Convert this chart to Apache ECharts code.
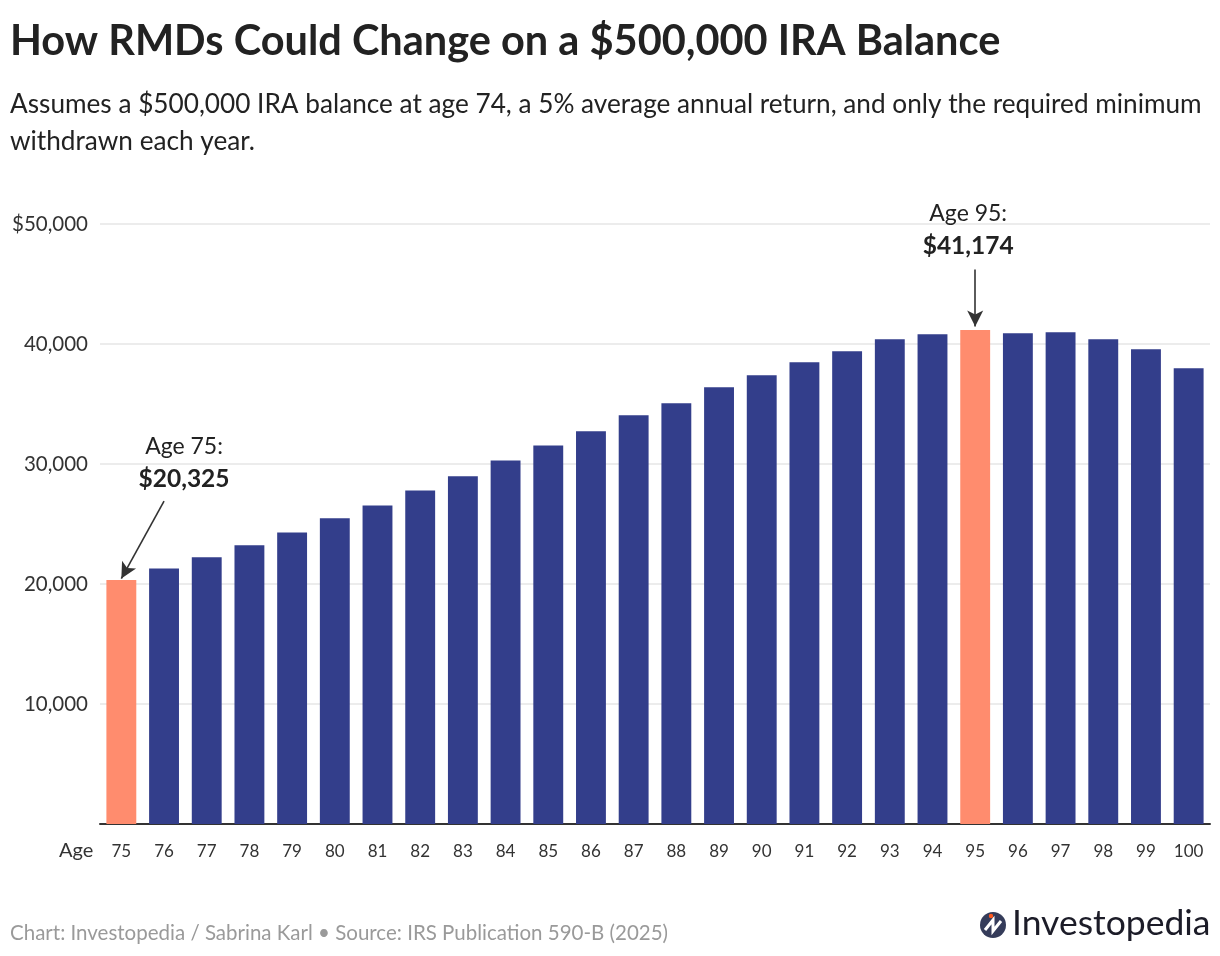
<!DOCTYPE html>
<html>
<head>
<meta charset="utf-8">
<script src="https://cdn.jsdelivr.net/npm/echarts@6/dist/echarts.min.js"></script>
<style>
  html, body { margin: 0; padding: 0; background: #fff; }
  #chart { width: 1220px; height: 956px; }
</style>
</head>
<body>
<div id="chart"></div>
<script>
const ages = ['75','76','77','78','79','80','81','82','83','84','85','86','87','88','89','90','91','92','93','94','95','96','97','98','99','100'];
const rmdValues = [20325, 21300, 22220, 23220, 24300, 25470, 26550, 27800, 28970, 30300, 31550, 32720, 34060, 35060, 36390, 37390, 38470, 39390, 40390, 40810, 41174, 40890, 40970, 40390, 39560, 37970];
const highlightAges = ['75', '95'];
const yTickValues = [10000, 20000, 30000, 40000, 50000];
const yTickLabels = ['10,000', '20,000', '30,000', '40,000', '$50,000'];
const annotations = [
  { age: '75', title: 'Age 75:', amount: '$20,325' },
  { age: '95', title: 'Age 95:', amount: '$41,174' }
];

const FONT = 'Lato, "Noto Sans", sans-serif';
const NAVY = '#333e8b';
const ORANGE = '#ff8c6e';

const chart = echarts.init(document.getElementById('chart'), null, { renderer: 'canvas' });

const barData = ages.map((a, i) => ({
  value: rmdValues[i],
  itemStyle: { color: highlightAges.includes(a) ? ORANGE : NAVY }
}));

const option = {
  backgroundColor: '#fff',
  animation: false,
  textStyle: { fontFamily: FONT },
  title: [
    {
      text: 'How RMDs Could Change on a $500,000 IRA Balance',
      left: 10, top: 21, padding: 0,
      textStyle: { fontFamily: FONT, fontSize: 41.5, fontWeight: 'bold', color: '#222' }
    },
    {
      text: 'Assumes a $500,000 IRA balance at age 74, a 5% average annual return, and only the required minimum\nwithdrawn each year.',
      left: 10, top: 86, padding: 0,
      textStyle: { fontFamily: FONT, fontSize: 26.2, fontWeight: 'normal', color: '#222', lineHeight: 37 }
    },
    {
      text: 'Chart: Investopedia / Sabrina Karl \u2022 Source: IRS Publication 590-B (2025)',
      left: 10, top: 923, padding: 0,
      textStyle: { fontFamily: FONT, fontSize: 20.5, fontWeight: 'normal', color: '#9a9a9a' }
    }
  ],
  grid: { left: 100, right: 10, top: 224, bottom: 132, containLabel: false },
  xAxis: {
    type: 'category',
    data: ages,
    axisLine: { show: true, lineStyle: { color: '#333', width: 2 } },
    axisTick: { show: false },
    axisLabel: { fontFamily: FONT, fontSize: 17, color: '#333', margin: 19 }
  },
  yAxis: {
    type: 'value',
    min: 0, max: 50000, interval: 10000,
    axisLine: { show: false },
    axisTick: { show: false },
    splitLine: { lineStyle: { color: '#e6e6e6', width: 1.5 } },
    axisLabel: {
      fontFamily: FONT, fontSize: 20.5, color: '#333', margin: 12,
      formatter: v => { const k = yTickValues.indexOf(v); return k >= 0 ? yTickLabels[k] : ''; }
    }
  },
  series: [{
    type: 'bar',
    data: barData,
    barCategoryGap: '30%',
    markPoint: {
      symbol: 'rect', symbolSize: 1,
      itemStyle: { color: 'rgba(0,0,0,0)' },
      label: {
        show: true, position: 'inside', color: '#222', align: 'center',
        rich: {
          t: { fontFamily: FONT, fontSize: 23, color: '#222', lineHeight: 32, align: 'center' },
          b: { fontFamily: FONT, fontSize: 24.5, fontWeight: 'bold', color: '#222', lineHeight: 32, align: 'center' }
        }
      },
      data: [
        { coord: ['76', 30000], label: { offset: [20, -1], formatter: '{t|' + annotations[0].title + '}\n{b|' + annotations[0].amount + '}' } },
        { coord: ['95', 49600], label: { offset: [-7, 1], formatter: '{t|' + annotations[1].title + '}\n{b|' + annotations[1].amount + '}' } }
      ]
    },
    markLine: {
      silent: true,
      symbol: ['none', 'arrow'],
      symbolSize: [12, 16],
      label: { show: false },
      lineStyle: { color: '#333', width: 1.6, type: 'solid' },
      data: [
        [ { coord: ['76', 26900] }, { coord: ['75', 20450] } ],
        [ { coord: ['95', 46200] }, { coord: ['95', 41450] } ]
      ]
    }
  }],
  graphic: [
    { type: 'text', left: 59, top: 841, style: { text: 'Age', fontFamily: FONT, fontSize: 20, fill: '#333' } },
    { type: 'circle', shape: { cx: 993, cy: 925, r: 13 }, style: { fill: '#353c5a' } },
    { type: 'polyline', shape: { points: [[985, 930], [993, 920], [993, 931], [1001, 921]] }, style: { stroke: '#fff', lineWidth: 3, fill: null } },
    { type: 'circle', shape: { cx: 991, cy: 916, r: 2.2 }, style: { fill: '#ff5a1f' } },
    { type: 'text', left: 1012, top: 906, style: { text: 'Investopedia', fontFamily: FONT, fontSize: 35.5, fill: '#1c1c28' } }
  ]
};

chart.setOption(option);
</script>
</body>
</html>
